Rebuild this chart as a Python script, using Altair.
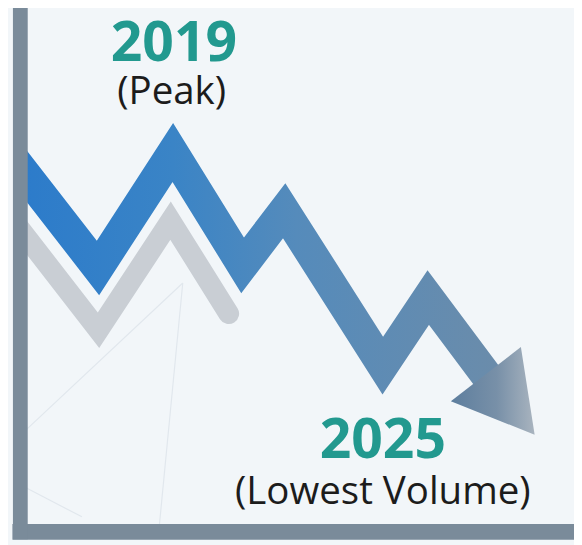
import altair as alt
import pandas as pd

# ---- data (index units 0-100 on both axes) ----
blue_x = [-3.6, 14.1, 27.6, 40.2, 47.7, 65.5, 73.7, 85.4]
blue_y = [75.0, 50.7, 72.9, 51.2, 61.7, 31.9, 45.0, 28.3]
tip_x = [92.9]
tip_y = [18.6]
gray_x = [-3.6, 14.2, 27.2, 37.7]
gray_y = [63.2, 38.7, 59.8, 41.9]
faint_id = ["a", "a", "b", "b", "c", "c"]
faint_x = [-3.6, 29.4, 29.4, 24.9, -3.6, 11.2]
faint_y = [14.8, 47.8, 47.8, -1.9, 11.0, 2.8]
label_text = ["2019", "(Peak)", "2025", "(Lowest Volume)"]
label_kind = ["year", "note", "year", "note"]
label_x = [27.8, 27.4, 65.5, 65.5]
label_y = [90.5, 82.2, 14.2, 5.3]

blue = pd.DataFrame({"x": blue_x, "y": blue_y, "i": range(len(blue_x))})
tip = pd.DataFrame({"x": tip_x, "y": tip_y})
gray = pd.DataFrame({"x": gray_x, "y": gray_y, "i": range(len(gray_x))})
faint = pd.DataFrame({"x": faint_x, "y": faint_y, "g": faint_id, "i": range(len(faint_x))})
labels = pd.DataFrame({"x": label_x, "y": label_y, "t": label_text, "k": label_kind})

AXIS_COLOR = "#7a8b9a"
xs = alt.Scale(domain=[0, 100], nice=False, zero=False)
ys = alt.Scale(domain=[0, 100], nice=False, zero=False)
xaxis = alt.Axis(domain=True, domainColor=AXIS_COLOR, domainWidth=16, domainCap="square",
                 ticks=False, labels=False, grid=False, title="", zindex=1)
yaxis = alt.Axis(domain=True, domainColor=AXIS_COLOR, domainWidth=15, domainCap="square",
                 ticks=False, labels=False, grid=False, title="", zindex=1)
X = alt.X("x:Q", scale=xs, axis=xaxis)
Y = alt.Y("y:Q", scale=ys, axis=yaxis)

faint_layer = alt.Chart(faint).mark_line(color="#e1e7ed", strokeWidth=1.2, clip=True).encode(
    x=X, y=Y, detail="g:N", order="i:Q")

gray_layer = alt.Chart(gray).mark_line(color="#c9ced4", strokeWidth=21, strokeCap="round",
                                       strokeJoin="miter", clip=True).encode(x=X, y=Y, order="i:Q")

blue_grad = alt.Gradient(
    gradient="linear",
    stops=[alt.GradientStop(color="#2a7acb", offset=0),
           alt.GradientStop(color="#3a84c6", offset=0.35),
           alt.GradientStop(color="#558bbb", offset=0.6),
           alt.GradientStop(color="#6a8cab", offset=1)],
    x1=0, x2=1, y1=0, y2=0)
blue_layer = alt.Chart(blue).mark_line(color=blue_grad, strokeWidth=32, strokeJoin="miter",
                                       strokeCap="butt", clip=True).encode(x=X, y=Y, order="i:Q")

head_grad = alt.Gradient(
    gradient="linear",
    stops=[alt.GradientStop(color="#5d7e9e", offset=0),
           alt.GradientStop(color="#7890a8", offset=0.55),
           alt.GradientStop(color="#a9b4bf", offset=1)],
    x1=0, x2=1, y1=0, y2=0)
head_layer = alt.Chart(tip).mark_point(
    shape="M0,0 L-0.955,-0.382 L-0.157,-1 Z", size=31684, filled=True,
    fill=head_grad, strokeWidth=0, opacity=1).encode(x=X, y=Y)

year_layer = alt.Chart(labels).transform_filter(alt.datum.k == "year").mark_text(
    font="Open Sans", fontWeight="bold", fontSize=56, color="#22998f",
    align="center", baseline="alphabetic").encode(x=X, y=Y, text="t:N")
note_layer = alt.Chart(labels).transform_filter(alt.datum.k == "note").mark_text(
    font="Open Sans", fontSize=39, color="#1c1c1c",
    align="center", baseline="alphabetic").encode(x=X, y=Y, text="t:N")

chart = alt.layer(faint_layer, gray_layer, blue_layer, head_layer, year_layer, note_layer).properties(
    width=562, height=527,
    autosize=alt.AutoSizeParams(type="none"),
    padding={"left": 12, "top": 0, "right": 0, "bottom": 10},
    background="#f2f6f9",
).configure_view(strokeWidth=0)

chart.save("out.html", embed_options={"renderer": "svg", "actions": False})
